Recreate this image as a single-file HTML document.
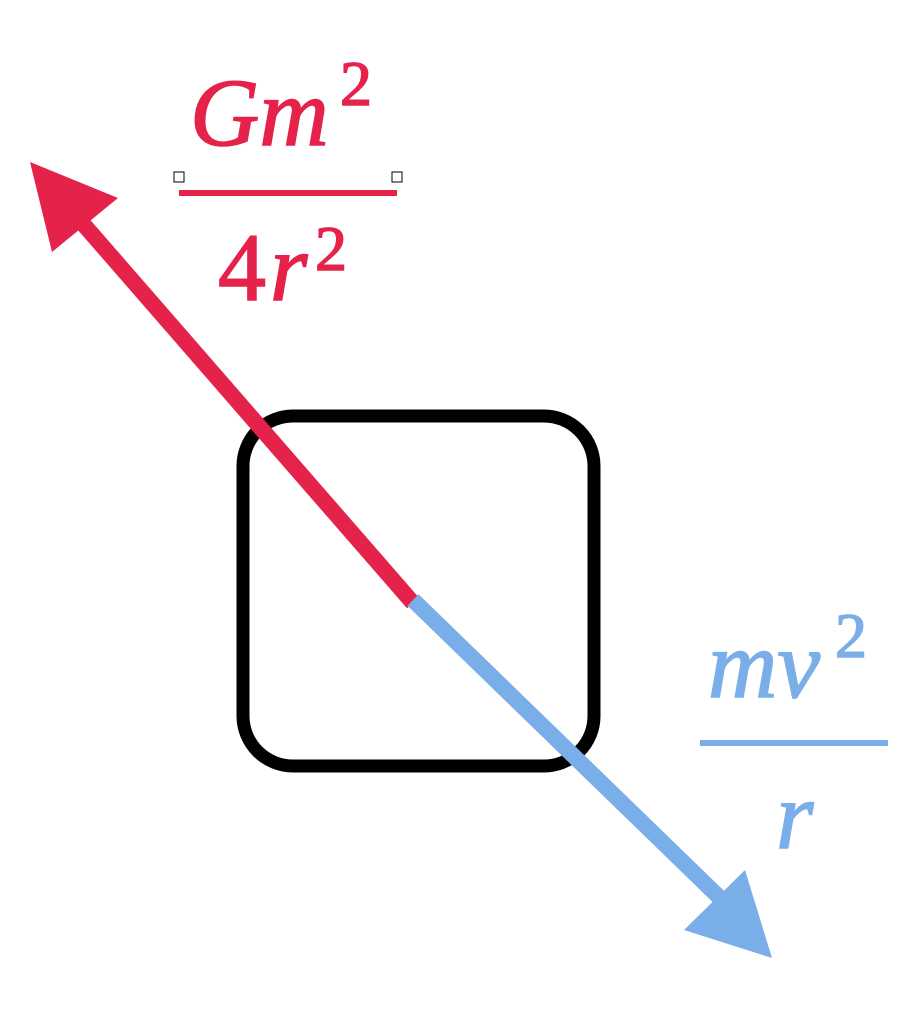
<!DOCTYPE html>
<html><head><meta charset="utf-8"><style>html,body{margin:0;padding:0;background:#fff}</style></head>
<body>
<svg width="924" height="1024" viewBox="0 0 924 1024" xmlns="http://www.w3.org/2000/svg">
<rect x="243" y="416" width="351" height="350" rx="50" ry="50" fill="none" stroke="#000" stroke-width="13"/>
<line x1="413" y1="603" x2="78" y2="218" stroke="#e5234a" stroke-width="16"/>
<polygon points="30,162 118,198 52,252" fill="#e5234a"/>
<line x1="413" y1="600" x2="722" y2="900" stroke="#7aaee8" stroke-width="16"/>
<polygon points="772,958 684,930 745,870" fill="#7aaee8"/>
<g font-family="Liberation Serif, serif" font-style="italic" fill="#e5234a" stroke="#e5234a" stroke-width="1.5">
<text x="190" y="145" font-size="96">Gm</text>
<text x="340" y="105" font-size="64" font-style="normal">2</text>
<text x="218" y="300" font-size="96" font-style="normal">4</text>
<text x="270" y="300" font-size="96">r</text>
<text x="315" y="270" font-size="64" font-style="normal">2</text>
</g>
<rect x="179" y="190" width="218" height="6" fill="#e5234a"/>
<rect x="174" y="172" width="10" height="10" fill="#fff" stroke="#000" stroke-width="1"/>
<rect x="392" y="172" width="10" height="10" fill="#fff" stroke="#000" stroke-width="1"/>
<g font-family="Liberation Serif, serif" font-style="italic" fill="#7aaee8" stroke="#7aaee8" stroke-width="1.5">
<text x="708" y="697" font-size="96">mv</text>
<text x="835" y="657" font-size="64" font-style="normal">2</text>
<text x="776" y="848" font-size="96">r</text>
</g>
<rect x="700" y="740" width="188" height="6" fill="#7aaee8"/>
</svg>
</body></html>
